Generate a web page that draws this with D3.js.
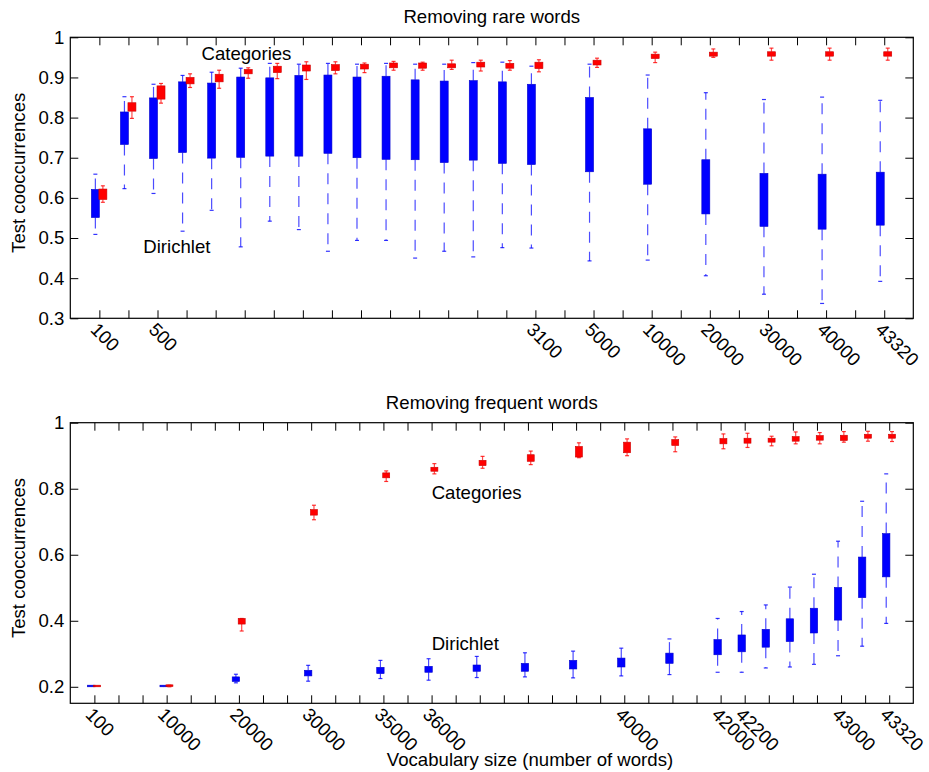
<!DOCTYPE html>
<html>
<head>
<meta charset="utf-8">
<script src="https://cdn.jsdelivr.net/npm/d3@7"></script>
<style>
  body { margin: 0; background: #fff; }
  text { font-family: "Liberation Sans", Arial, sans-serif; fill: #000; }
</style>
</head>
<body>
<svg id="mainCanvas"></svg>
<script>
// Data: top panel (removing rare words)
const topPositions = [1, 2, 3, 4, 5, 6, 7, 8, 9, 10, 11, 12, 13, 14, 15, 16, 18, 20, 22, 24, 26, 28];
const topTickLabels = { 1: "100", 3: "500", 16: "3100", 18: "5000", 20: "10000", 22: "20000", 24: "30000", 26: "40000", 28: "43320" };
const topDirHi = [0.659, 0.852, 0.883, 0.905, 0.913, 0.923, 0.935, 0.933, 0.935, 0.933, 0.935, 0.933, 0.933, 0.937, 0.938, 0.928, 0.933, 0.906, 0.862, 0.845, 0.851, 0.843];
const topDirQ3 = [0.621, 0.814, 0.849, 0.889, 0.886, 0.901, 0.899, 0.905, 0.906, 0.901, 0.903, 0.894, 0.891, 0.892, 0.889, 0.883, 0.850, 0.772, 0.695, 0.661, 0.659, 0.664];
const topDirQ1 = [0.551, 0.733, 0.698, 0.713, 0.699, 0.701, 0.704, 0.704, 0.711, 0.700, 0.696, 0.695, 0.688, 0.694, 0.686, 0.683, 0.665, 0.634, 0.560, 0.529, 0.522, 0.532];
const topDirLo = [0.509, 0.623, 0.611, 0.517, 0.569, 0.478, 0.542, 0.521, 0.467, 0.494, 0.494, 0.450, 0.467, 0.453, 0.476, 0.475, 0.443, 0.445, 0.406, 0.360, 0.337, 0.392];
const topCatHi = [0.630, 0.852, 0.885, 0.909, 0.918, 0.924, 0.935, 0.939, 0.939, 0.936, 0.940, 0.938, 0.943, 0.943, 0.942, 0.944, 0.948, 0.963, 0.971, 0.973, 0.973, 0.973];
const topCatQ3 = [0.622, 0.837, 0.879, 0.900, 0.908, 0.920, 0.928, 0.931, 0.932, 0.933, 0.936, 0.936, 0.934, 0.938, 0.935, 0.938, 0.943, 0.958, 0.963, 0.964, 0.964, 0.964];
const topCatQ1 = [0.596, 0.816, 0.846, 0.884, 0.889, 0.909, 0.912, 0.916, 0.917, 0.921, 0.924, 0.923, 0.924, 0.926, 0.923, 0.922, 0.931, 0.947, 0.953, 0.953, 0.953, 0.953];
const topCatLo = [0.589, 0.798, 0.836, 0.875, 0.873, 0.898, 0.897, 0.895, 0.909, 0.912, 0.918, 0.918, 0.920, 0.916, 0.918, 0.914, 0.925, 0.937, 0.950, 0.943, 0.943, 0.943];
const topYTicks = [0.3, 0.4, 0.5, 0.6, 0.7, 0.8, 0.9, 1];

// Data: bottom panel (removing frequent words)
const botPositions = [1, 4, 7, 10, 13, 15, 17, 19, 21, 23, 25, 27, 28, 29, 30, 31, 32, 33, 34];
const botTickLabels = { 1: "100", 4: "10000", 7: "20000", 10: "30000", 13: "35000", 15: "36000", 23: "40000", 27: "42000", 28: "42200", 32: "43000", 34: "43320" };
const botDirHi = [0.200, 0.200, 0.238, 0.265, 0.280, 0.285, 0.292, 0.303, 0.308, 0.317, 0.345, 0.407, 0.428, 0.448, 0.502, 0.541, 0.641, 0.762, 0.845];
const botDirQ3 = [0.200, 0.200, 0.230, 0.250, 0.259, 0.262, 0.266, 0.271, 0.280, 0.287, 0.302, 0.343, 0.357, 0.374, 0.406, 0.438, 0.501, 0.593, 0.664];
const botDirQ1 = [0.200, 0.200, 0.216, 0.233, 0.240, 0.244, 0.247, 0.247, 0.254, 0.260, 0.271, 0.297, 0.306, 0.320, 0.337, 0.363, 0.402, 0.470, 0.533];
const botDirLo = [0.200, 0.200, 0.212, 0.217, 0.225, 0.220, 0.228, 0.230, 0.227, 0.233, 0.237, 0.244, 0.244, 0.257, 0.260, 0.268, 0.294, 0.323, 0.392];
const botCatHi = [0.200, 0.205, 0.407, 0.750, 0.854, 0.876, 0.898, 0.914, 0.939, 0.951, 0.957, 0.966, 0.968, 0.959, 0.972, 0.970, 0.973, 0.974, 0.973];
const botCatQ3 = [0.200, 0.204, 0.407, 0.737, 0.848, 0.865, 0.886, 0.903, 0.928, 0.941, 0.949, 0.952, 0.953, 0.953, 0.958, 0.961, 0.962, 0.965, 0.965];
const botCatQ1 = [0.200, 0.201, 0.390, 0.720, 0.833, 0.853, 0.870, 0.883, 0.896, 0.909, 0.931, 0.936, 0.938, 0.941, 0.944, 0.947, 0.946, 0.953, 0.953];
const botCatLo = [0.200, 0.200, 0.369, 0.706, 0.822, 0.845, 0.862, 0.873, 0.894, 0.900, 0.912, 0.921, 0.925, 0.930, 0.936, 0.936, 0.941, 0.944, 0.943];
const botYTicks = [0.2, 0.4, 0.6, 0.8, 1];

// Canvas
const Canvas = { width: 929, height: 772, fontSize: 18.6 };
const svg = d3.select("#mainCanvas").attr("width", Canvas.width).attr("height", Canvas.height);

const zip = (pos, hi, q3, q1, lo) => pos.map((p, i) => ({ p, hi: hi[i], q3: q3[i], q1: q1[i], lo: lo[i] }));

// Draw one panel
const drawPanel = (cfg) => {
    const { top, bottom, left, right, xMax, yMin, yTicks, tickLabels, title, series, notes, offs } = cfg;
    const x = d3.scaleLinear().domain([0, xMax]).range([left, right]);
    const y = d3.scaleLinear().domain([yMin, 1]).range([bottom, top]);
    const g = svg.append("g");
    const xt = d3.range(1, xMax);
    const fmt = (v) => (v === 1 ? "1" : d3.format(".1f")(v));

    // axes, ticks inward on all four sides
    const ax = (sel) => sel.call((s) => s.select(".domain").remove())
        .call((s) => s.selectAll("line").attr("stroke", "#000"));
    g.append("g").attr("transform", `translate(0,${bottom})`)
        .call(d3.axisBottom(x).tickValues(xt).tickSize(-8).tickSizeOuter(0)
            .tickFormat((d) => tickLabels[d] || ""))
        .call(ax)
        .selectAll("text")
        .attr("font-size", Canvas.fontSize).attr("text-anchor", "start")
        .attr("x", 0).attr("y", 0).attr("dy", "0.71em")
        .attr("transform", "translate(-1,3) rotate(45)");
    g.append("g").attr("transform", `translate(0,${top})`)
        .call(d3.axisTop(x).tickValues(xt).tickSize(-8).tickFormat(""))
        .call(ax);
    g.append("g").attr("transform", `translate(${left},0)`)
        .call(d3.axisLeft(y).tickValues(yTicks).tickSize(-8).tickPadding(6).tickFormat(fmt))
        .call(ax)
        .selectAll("text").attr("font-size", Canvas.fontSize);
    g.append("g").attr("transform", `translate(${right},0)`)
        .call(d3.axisRight(y).tickValues(yTicks).tickSize(-8).tickFormat(""))
        .call(ax);
    g.selectAll(".tick text").attr("font-family", null);

    g.append("rect").attr("x", left).attr("y", top)
        .attr("width", right - left).attr("height", bottom - top)
        .attr("fill", "none").attr("stroke", "#000").attr("stroke-width", 1.2);

    // box plots
    series.forEach((s, k) => {
        const bg = g.append("g");
        const cx = (d) => x(d.p) + offs[k];
        // whiskers
        bg.selectAll(".wu").data(s.data).join("line")
            .attr("x1", cx).attr("x2", cx)
            .attr("y1", (d) => y(d.q3)).attr("y2", (d) => y(d.hi))
            .attr("stroke", s.color).attr("stroke-opacity", 0.7).attr("stroke-width", 1.2)
            .attr("stroke-dasharray", s.dash);
        bg.selectAll(".wl").data(s.data).join("line")
            .attr("x1", cx).attr("x2", cx)
            .attr("y1", (d) => y(d.q1)).attr("y2", (d) => y(d.lo))
            .attr("stroke", s.color).attr("stroke-opacity", 0.7).attr("stroke-width", 1.2)
            .attr("stroke-dasharray", s.dash);
        // caps
        ["hi", "lo"].forEach((key) => {
            bg.selectAll(".c" + key).data(s.data.filter((d) => d.hi - d.lo > 0.002)).join("line")
                .attr("x1", (d) => cx(d) - 2).attr("x2", (d) => cx(d) + 2)
                .attr("y1", (d) => y(d[key])).attr("y2", (d) => y(d[key]))
                .attr("stroke", s.color).attr("stroke-opacity", 0.8).attr("stroke-width", 1.2);
        });
        // boxes
        bg.selectAll("rect").data(s.data).join("rect")
            .attr("x", (d) => cx(d) - s.w / 2).attr("width", s.w)
            .attr("y", (d) => Math.min(y(d.q3), y(d.q1) - 1.6))
            .attr("height", (d) => Math.max(y(d.q1) - y(d.q3), 1.6))
            .attr("fill", s.color).attr("stroke", s.edge).attr("stroke-width", 0.6);
    });

    // title and labels
    g.append("text").attr("x", (left + right) / 2).attr("y", top - 14)
        .attr("text-anchor", "middle").attr("font-size", Canvas.fontSize).text(title);
    g.append("text").attr("transform", `translate(25,${(top + bottom) / 2 - 5}) rotate(-90)`)
        .attr("text-anchor", "middle").attr("font-size", Canvas.fontSize).text("Test cooccurrences");
    notes.forEach((n) => {
        g.append("text").attr("x", n.x).attr("y", n.y)
            .attr("font-size", Canvas.fontSize).text(n.text);
    });
    return { x, y };
};

// Top panel
drawPanel({
    top: 37.3, bottom: 318.3, left: 70.3, right: 913.3,
    xMax: 29, yMin: 0.3, yTicks: topYTicks, tickLabels: topTickLabels,
    title: "Removing rare words",
    offs: [-4, 3.5],
    series: [
        { color: "#0000ff", edge: "#0000cc", dash: "11,9", w: 8, data: zip(topPositions, topDirHi, topDirQ3, topDirQ1, topDirLo) },
        { color: "#ff0000", edge: "#cc0000", dash: null, w: 8, data: zip(topPositions, topCatHi, topCatQ3, topCatQ1, topCatLo) },
    ],
    notes: [
        { text: "Categories", x: 201.5, y: 60 },
        { text: "Dirichlet", x: 143.3, y: 253 },
    ],
});

// Bottom panel
drawPanel({
    top: 422.7, bottom: 703.3, left: 70.3, right: 913.3,
    xMax: 35, yMin: 0.15, yTicks: botYTicks, tickLabels: botTickLabels,
    title: "Removing frequent words",
    offs: [-3, 2.8],
    series: [
        { color: "#0000ff", edge: "#0000cc", dash: "11,9", w: 7.4, data: zip(botPositions, botDirHi, botDirQ3, botDirQ1, botDirLo) },
        { color: "#ff0000", edge: "#cc0000", dash: null, w: 7, data: zip(botPositions, botCatHi, botCatQ3, botCatQ1, botCatLo) },
    ],
    notes: [
        { text: "Categories", x: 431.7, y: 499 },
        { text: "Dirichlet", x: 431.7, y: 650 },
    ],
});

// x axis title
svg.append("text").attr("x", 530).attr("y", 766)
    .attr("text-anchor", "middle").attr("font-size", Canvas.fontSize)
    .text("Vocabulary size (number of words)");
</script>
</body>
</html>
